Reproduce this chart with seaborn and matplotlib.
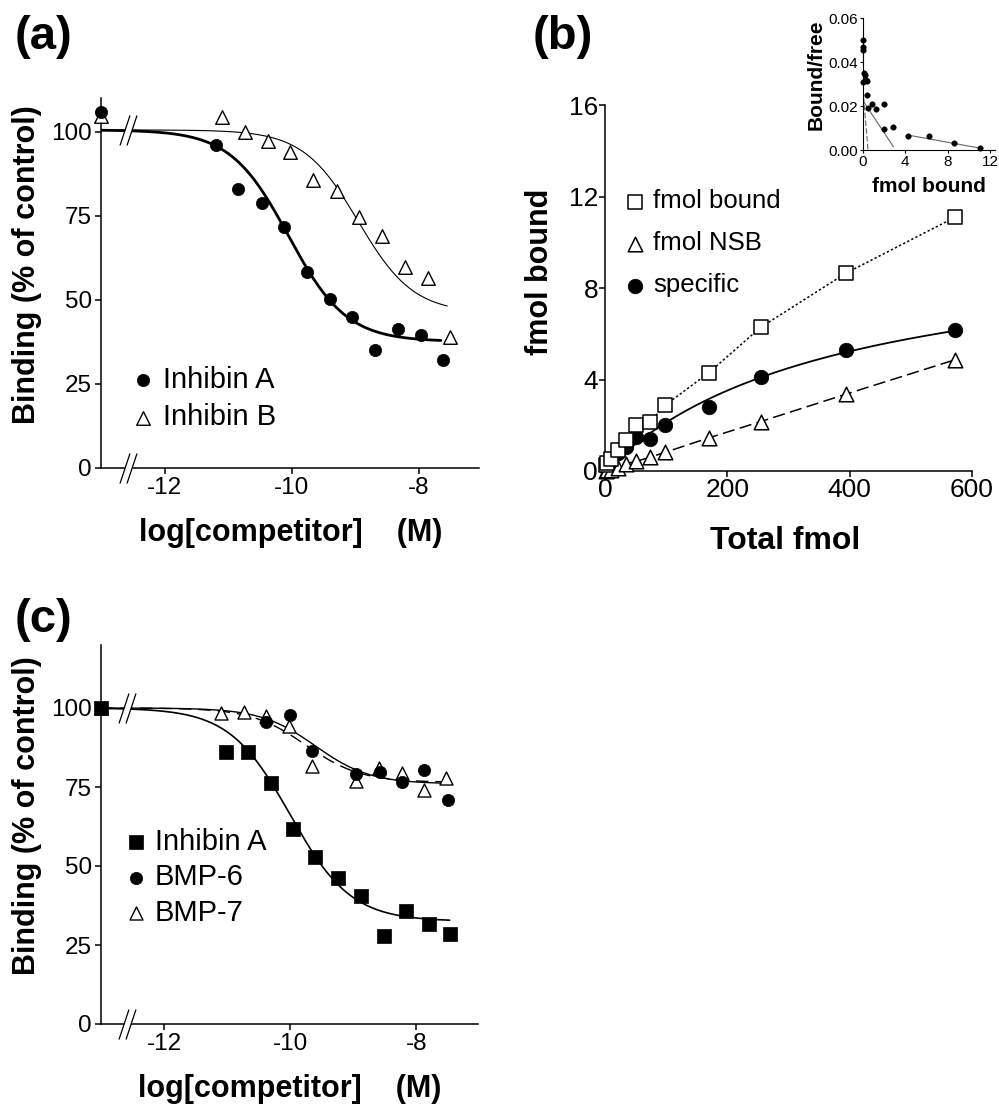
import numpy as np
import pandas as pd
import matplotlib
matplotlib.use('Agg')
import matplotlib.pyplot as plt
import seaborn as sns
from matplotlib.path import Path
from matplotlib.ticker import FormatStrFormatter

# ---- data ----
# (a) competition: log[competitor] (M) vs binding (% of control)
a_conc_A = [-13.0, -11.19, -10.84, -10.47, -10.12, -9.75, -9.40, -9.05, -8.68, -8.33, -7.96, -7.61]
a_bind_A = [105.8, 96.1, 82.9, 78.7, 71.7, 58.3, 50.2, 44.8, 35.1, 41.1, 39.5, 32.1]
a_conc_B = [-13.0, -11.09, -10.73, -10.37, -10.02, -9.66, -9.29, -8.94, -8.58, -8.22, -7.86, -7.51]
a_bind_B = [104.5, 104.3, 99.8, 97.3, 94.0, 85.7, 82.2, 74.7, 69.0, 59.8, 56.5, 38.8]
# fitted sigmoid: top, bottom, logIC50, hill, x end
a_fit_A = [100.5, 37.5, -10.05, 0.95, -7.65]
a_fit_B = [100.5, 46.0, -8.95, 1.0, -7.55]

# (b) saturation
b_total = [1.5, 4.0, 10.0, 21.8, 34.3, 50.7, 73.6, 98.6, 170, 254.5, 394, 572]
b_bound = [0.25, 0.35, 0.52, 0.93, 1.35, 2.02, 2.16, 2.88, 4.30, 6.28, 8.65, 11.09]
b_nsb = [0.01, 0.03, 0.06, 0.15, 0.32, 0.42, 0.60, 0.82, 1.45, 2.16, 3.36, 4.86]
b_specific = [0.15, 0.30, 0.47, 0.78, 1.05, 1.50, 1.42, 2.03, 2.80, 4.11, 5.28, 6.15]
b_fit_spec = [10.2, 380.0]      # Bmax, Kd

# (b) inset: Scatchard
in_bound = [0.09, 0.09, 0.09, 0.12, 0.20, 0.05, 0.30, 0.42, 0.45, 0.56, 0.87,
            1.30, 2.00, 2.05, 2.88, 4.25, 6.25, 8.60, 11.0]
in_ratio = [0.050, 0.047, 0.0455, 0.035, 0.034, 0.031, 0.032, 0.0315, 0.025, 0.0192,
            0.0208, 0.0188, 0.0208, 0.0096, 0.0106, 0.0064, 0.0062, 0.0032, 0.0008]
in_line_hi_x = [0.10, 0.52]
in_line_hi_y = [0.024, 0.0]
in_line_mid_x = [0.10, 2.90]
in_line_mid_y = [0.022, 0.0015]
in_line_lo_x = [4.25, 11.1]
in_line_lo_y = [0.0068, 0.0008]

# (c) competition
c_conc_A = [-13.0, -11.01, -10.67, -10.31, -9.95, -9.60, -9.24, -8.88, -8.51, -8.16, -7.80, -7.46]
c_bind_A = [100.0, 86.0, 86.0, 76.4, 61.7, 52.9, 46.2, 40.5, 27.7, 35.8, 31.5, 28.4]
c_conc_6 = [-13.0, -10.38, -10.00, -9.66, -8.95, -8.58, -8.22, -7.87, -7.50]
c_bind_6 = [100.0, 95.6, 97.9, 86.5, 79.0, 79.9, 76.5, 80.4, 70.9]
c_conc_7 = [-13.0, -11.09, -10.73, -10.38, -10.02, -9.66, -8.96, -8.59, -8.23, -7.87, -7.52]
c_bind_7 = [100.0, 98.4, 98.6, 97.4, 94.2, 81.5, 76.9, 81.0, 79.4, 74.1, 78.0]
c_fit_A = [100.0, 32.5, -10.0, 0.9, -7.47]
c_fit_6 = [100.0, 76.0, -9.6, 1.0, -7.52]
c_fit_7 = [100.0, 76.5, -9.75, 1.0, -7.52]

x_break = -12.58

# ---- style ----
sns.set_theme(style='ticks')
plt.rcParams['font.family'] = ['Liberation Sans', 'DejaVu Sans']
plt.rcParams['axes.unicode_minus'] = False
plt.rcParams['axes.labelweight'] = 'bold'
plt.rcParams['axes.edgecolor'] = 'black'
plt.rcParams['axes.labelcolor'] = 'black'
plt.rcParams['text.color'] = 'black'
plt.rcParams['xtick.color'] = 'black'
plt.rcParams['ytick.color'] = 'black'
plt.rcParams['xtick.labelcolor'] = 'black'
plt.rcParams['ytick.labelcolor'] = 'black'

W, H = 999, 1105
fig = plt.figure(figsize=(W / 100, H / 100), dpi=100)


def px_axes(left, right, bottom, top):
    return fig.add_axes([left / W, 1 - bottom / H, (right - left) / W, (bottom - top) / H])


def style(ax, fs, lw=1.1, tl=4.5, pad=2):
    sns.despine(ax=ax)
    for s in ['left', 'bottom']:
        ax.spines[s].set_linewidth(lw)
    ax.tick_params(width=lw, length=tl, labelsize=fs, direction='out', pad=pad,
                   colors='black', labelcolor='black')
    ax.grid(False)


def sigmoid(ax, p, lw, ls='-'):
    top, bottom, logic50, hill, xend = p
    xs = np.linspace(-13.0, xend, 300)
    ys = bottom + (top - bottom) / (1 + 10 ** ((xs - logic50) * hill))
    sns.lineplot(x=xs, y=ys, ax=ax, color='black', lw=lw, ls=ls,
                 estimator=None, sort=False, zorder=2)


gap_path = Path([(-8.5, -15), (1.5, 15), (8.5, 15), (-1.5, -15), (-8.5, -15)],
                [Path.MOVETO, Path.LINETO, Path.LINETO, Path.LINETO, Path.CLOSEPOLY])
slash_path = Path([(-8.5, -15), (1.5, 15), (-1.5, -15), (8.5, 15)],
                  [Path.MOVETO, Path.LINETO, Path.MOVETO, Path.LINETO])


def axis_break(ax, y):
    ax.plot([x_break], [y], marker=gap_path, ms=21.6, mfc='white', mec='none',
            ls='none', clip_on=False, zorder=6)
    ax.plot([x_break], [y], marker=slash_path, ms=21.6, mfc='none', mec='black',
            mew=0.9, ls='none', clip_on=False, zorder=7)


# ---- (a) ----
ax_a = px_axes(101, 479, 467.5, 98)
sigmoid(ax_a, a_fit_A, 2.0)
sigmoid(ax_a, a_fit_B, 0.8)
sns.scatterplot(x=a_conc_A, y=a_bind_A, ax=ax_a, marker='o', s=78, color='black',
                edgecolor='black', linewidth=0.5, label='Inhibin A', clip_on=False, zorder=4)
sns.scatterplot(x=a_conc_B, y=a_bind_B, ax=ax_a, marker='^', s=95, color='white',
                edgecolor='black', linewidth=1.0, label='Inhibin B', clip_on=False, zorder=3)
ax_a.set_xlim(-13, -7.05)
ax_a.set_ylim(0, 110)
ax_a.set_xticks([-12, -10, -8])
ax_a.set_yticks([0, 25, 50, 75, 100])
style(ax_a, 17.5)
axis_break(ax_a, 100.5)
axis_break(ax_a, 0)
ax_a.set_xlabel('log[competitor]    (M)', fontsize=22)
ax_a.set_ylabel('Binding (% of control)', fontsize=22)
ax_a.xaxis.set_label_coords(0.503, -0.137)
ax_a.yaxis.set_label_coords(-0.156, 0.55)
ax_a.legend(frameon=False, loc='center left', bbox_to_anchor=(0.08, 0.186), fontsize=21,
            handlelength=0.8, handletextpad=0.3, borderpad=0, borderaxespad=0, labelspacing=0.32)

# ---- (b) ----
ax_b = px_axes(605, 972, 471, 105)
sns.lineplot(x=b_total, y=b_bound, ax=ax_b, color='black', lw=1.1, ls=(0, (1.5, 1.5)),
             estimator=None, sort=False, zorder=2)
sns.lineplot(x=b_total, y=b_nsb, ax=ax_b, color='black', lw=1.1, ls=(0, (8, 3.5)),
             estimator=None, sort=False, zorder=2)
xs_b = np.linspace(0, b_total[-1], 200)
sns.lineplot(x=xs_b, y=b_fit_spec[0] * xs_b / (b_fit_spec[1] + xs_b), ax=ax_b,
             color='black', lw=1.3, estimator=None, sort=False, zorder=2)
sns.scatterplot(x=b_total, y=b_bound, ax=ax_b, marker='s', s=105, color='white',
                edgecolor='black', linewidth=1.1, label='fmol bound', clip_on=False, zorder=5)
sns.scatterplot(x=b_total, y=b_nsb, ax=ax_b, marker='^', s=110, color='white',
                edgecolor='black', linewidth=1.1, label='fmol NSB', clip_on=False, zorder=4)
sns.scatterplot(x=b_total, y=b_specific, ax=ax_b, marker='o', s=110, color='black',
                edgecolor='black', linewidth=0.5, label='specific', clip_on=False, zorder=3)
ax_b.set_xlim(0, 600)
ax_b.set_ylim(0, 16)
ax_b.set_xticks([0, 200, 400, 600])
ax_b.set_yticks([0, 4, 8, 12, 16])
style(ax_b, 19, tl=4, pad=1)
ax_b.set_xlabel('Total fmol', fontsize=23)
ax_b.set_ylabel('fmol bound', fontsize=22)
ax_b.xaxis.set_label_coords(0.49, -0.15)
ax_b.yaxis.set_label_coords(-0.136, 0.544)
ax_b.legend(frameon=False, loc='center left', bbox_to_anchor=(0.054, 0.622), fontsize=18.5,
            handlelength=0.8, handletextpad=0.3, borderpad=0, borderaxespad=0, labelspacing=0.7)

# ---- (b) inset ----
ax_in = px_axes(862.5, 994.5, 150, 18)
sns.lineplot(x=in_line_hi_x, y=in_line_hi_y, ax=ax_in, color='#666666', lw=0.8,
             ls=(0, (5, 2)), estimator=None, sort=False)
sns.lineplot(x=in_line_mid_x, y=in_line_mid_y, ax=ax_in, color='#666666', lw=0.8,
             estimator=None, sort=False)
sns.lineplot(x=in_line_lo_x, y=in_line_lo_y, ax=ax_in, color='#666666', lw=0.8,
             estimator=None, sort=False)
sns.scatterplot(x=in_bound, y=in_ratio, ax=ax_in, marker='o', s=16, color='black',
                edgecolor='black', linewidth=0.3, clip_on=False, zorder=4)
ax_in.set_xlim(0, 12.4)
ax_in.set_ylim(0, 0.06)
ax_in.set_xticks([0, 4, 8, 12])
ax_in.set_yticks([0, 0.02, 0.04, 0.06])
ax_in.yaxis.set_major_formatter(FormatStrFormatter('%.2f'))
style(ax_in, 11, lw=0.8, tl=2.5, pad=1)
ax_in.set_xlabel('fmol bound', fontsize=15)
ax_in.set_ylabel('Bound/free', fontsize=15)
ax_in.xaxis.set_label_coords(0.5, -0.205)
ax_in.yaxis.set_label_coords(-0.28, 0.57)

# ---- (c) ----
ax_c = px_axes(101, 478, 1024, 644.8)
sigmoid(ax_c, c_fit_A, 1.2)
sigmoid(ax_c, c_fit_6, 1.0)
sigmoid(ax_c, c_fit_7, 1.0, ls=(0, (9, 5)))
sns.scatterplot(x=c_conc_A, y=c_bind_A, ax=ax_c, marker='s', s=92, color='black',
                edgecolor='black', linewidth=0.5, label='Inhibin A', clip_on=False, zorder=5)
sns.scatterplot(x=c_conc_6, y=c_bind_6, ax=ax_c, marker='o', s=78, color='black',
                edgecolor='black', linewidth=0.5, label='BMP-6', clip_on=False, zorder=4)
sns.scatterplot(x=c_conc_7, y=c_bind_7, ax=ax_c, marker='^', s=88, color='white',
                edgecolor='black', linewidth=1.0, label='BMP-7', clip_on=False, zorder=3)
ax_c.set_xlim(-13, -7.02)
ax_c.set_ylim(0, 120)
ax_c.set_xticks([-12, -10, -8])
ax_c.set_yticks([0, 25, 50, 75, 100])
style(ax_c, 17.5)
axis_break(ax_c, 100)
axis_break(ax_c, 0)
ax_c.set_xlabel('log[competitor]    (M)', fontsize=22)
ax_c.set_ylabel('Binding (% of control)', fontsize=22)
ax_c.xaxis.set_label_coords(0.5, -0.132)
ax_c.yaxis.set_label_coords(-0.156, 0.549)
ax_c.legend(frameon=False, loc='center left', bbox_to_anchor=(0.062, 0.387), fontsize=21,
            handlelength=0.8, handletextpad=0.25, borderpad=0, borderaxespad=0, labelspacing=0.25)

# ---- panel letters ----
for lab, x0, y0 in [('(a)', 15, 15), ('(b)', 533, 15), ('(c)', 15, 598)]:
    fig.text(x0 / W, 1 - y0 / H, lab, fontsize=34, fontweight='bold', ha='left', va='top')

fig.savefig('out.png', dpi=100)
